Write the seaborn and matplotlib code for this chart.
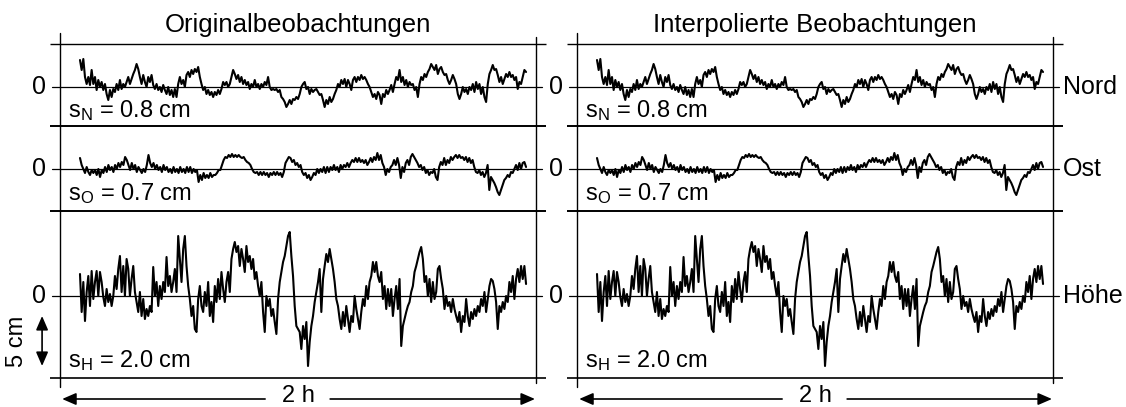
import numpy as np
import matplotlib
matplotlib.use("Agg")
import matplotlib.pyplot as plt
import seaborn as sns

sns.set_theme(style="white")
plt.rcParams['font.family'] = ['Liberation Sans', 'DejaVu Sans']
plt.rcParams['mathtext.default'] = 'regular'
plt.rcParams['text.color'] = 'black'

# residuals in cm (2 h record)
nord = [
    2.7, 1.7, 2.8, 1.0, 0.3, 1.0, 0.2, 1.7, 0.3, 1.0,
    -0.3, 0.7, 0.0, 0.5, -0.3, 0.3, -0.7, -1.3, -0.3, -1.0,
    -0.2, -0.5, 0.3, -0.3, 0.7, -0.2, 0.3, 0.0, 0.5, 1.0,
    0.3, 0.8, 1.3, 1.7, 2.3, 1.8, 1.0, 0.3, 1.2, 0.5,
    0.0, 1.0, 0.5, 1.2, 0.2, -0.2, 0.3, -0.3, 0.0, -0.5,
    0.2, -0.3, -0.7, 0.0, -0.8, -0.3, -1.0, -0.2, -1.0, 0.3,
    1.0, 0.3, 0.7, 0.0, 1.2, 1.5, 1.0, 1.7, 1.3, 1.8,
    1.5, 2.0, 1.0, 0.3, -0.3, 0.0, -0.7, -0.3, -0.8, -0.5,
    -1.0, -0.5, -0.8, -0.3, -0.7, -0.2, 0.5, 0.2, 0.5, 0.0,
    0.3, 1.0, 1.7, 1.3, 0.8, 1.2, 0.5, 1.0, 0.3, 0.7,
    0.2, 0.5, -0.2, 0.3, 0.0, 0.7, 0.0, 0.3, -0.2, 0.3,
    0.0, 0.5, 0.2, 1.0, 0.0, -0.3, -0.2, -0.3, -0.2, -0.5,
    -0.3, -1.0, -1.2, -1.5, -2.0, -1.7, -1.3, -1.7, -1.2, -1.3,
    -1.0, -1.2, -0.7,
    0.0, 0.3, 0.5, -0.2, 0.0, -0.7, -0.2, -0.5, -0.3, -0.2,
    -0.5, -0.8, -0.7, -1.3, -2.0, -1.3, -1.7, -1.0, -1.5, -1.2,
    -0.7, -0.3, 0.3, 0.0, 0.7, 0.3, 0.8, 0.0, 0.7, 0.3,
    -0.3, 0.7, 1.0, 0.5, 1.0, 0.7, 1.2, 0.8, 1.0, 0.7,
    0.3, 0.0, -0.5, -1.0, -0.7, -1.2, -0.5, -0.8, -1.7, -0.7,
    -1.0, -0.3, -0.7, -0.3, 0.2, -0.5, 0.3, 1.0, 0.7, 1.7,
    0.5, 1.0, 0.2, 0.7, 0.0, 0.5, 0.2, 0.3, -0.3, 0.0,
    -1.0, 0.3, 1.0, 0.7, 1.3, 1.0, 1.5, 1.8, 2.3, 2.0,
    1.7, 2.2, 1.3, 1.8, 2.0, 1.5, 1.2, 1.3, 0.7, 0.3,
    0.7, 1.2, 0.8, 0.3, -0.7, -1.2, -0.7, 0.0, -0.5, -0.2,
    -0.7, 0.0, -0.3, 0.3, -0.5, 0.5, -0.2, 0.3, -0.7, 0.0,
    -1.0, -1.5, 0.3, 1.3, 1.7, 2.2, 1.7, 1.8, 1.2, 0.5,
    1.0, 0.3, 0.8, 1.3, 1.0, 1.5, 1.0, 1.2, 0.7, 1.0,
    -0.2, 0.5, 0.3, 1.0, 1.7, 1.5,
]

ost = [
    1.1, 0.4, 0.0, -0.4, 0.2, -0.3, -0.6, -0.1, -0.4, -0.1,
    -0.6, 0.0, -0.8, -0.1, -0.4, 0.2, -0.3, 0.4, -0.1, 0.2,
    -0.3, 0.4, 0.0, 0.6, 0.2, 0.7, 0.4, 1.2, 0.9, 0.4,
    -0.1, 0.6, 0.0, 0.4, -0.3, 0.2, -0.1, -0.4, 0.0, -0.3,
    0.4, 1.4, 0.6, 0.2, 0.6, 0.0, 0.4, -0.1, 0.2, -0.3,
    0.4, -0.1, 0.2, -0.3, 0.0, -0.4, 0.2, -0.3, 0.0, -0.4,
    0.2, -0.3, 0.0, -0.4, 0.2, -0.3, 0.2, -0.4, 0.0, -0.3,
    -0.1, -1.3, -0.6, -1.1, -0.4, -0.9, -0.6, -0.9, -0.4, -0.8,
    -0.6, -0.6, -0.4, -0.1, -0.1, 0.4, 0.9, 1.2, 1.1, 1.4,
    1.2, 1.5, 1.2, 1.4, 1.2, 1.4, 1.2, 1.1, 1.2, 0.9,
    0.7, 0.6, 0.4, 0.0, -0.3, -0.4, -0.3, -0.6, -0.3, -0.6,
    -0.3, -0.6, -0.4, -0.8, -0.4, -0.6, -0.3, -0.6, -0.3, -0.6,
    -0.4, -0.8, -0.3, 0.6, 0.9, 1.2, 1.1, 0.7, 0.9, 0.4,
    0.6, 0.2, 0.4,
    -0.3, -0.6, -0.4, -0.9, -0.6, -1.1, -0.8, -0.4, -0.6, 0.0,
    -0.4, 0.0, -0.3, 0.2, -0.4, 0.2, -0.3, 0.2, -0.1, 0.4,
    -0.1, 0.2, -0.3, 0.4, 0.0, 0.4, 0.2, 0.6, 0.2, 0.6,
    0.9, 0.7, 1.1, 0.7, 1.1, 0.7, 0.9, 0.6, 0.9, 0.4,
    0.7, 1.1, 0.7, 1.2, 0.9, 1.6, 0.9, 1.4, 0.6, 0.2,
    -0.6, 0.0, -0.3, 0.2, 0.4, 0.9, 0.4, 1.1, 0.4, -0.9,
    0.2, -0.3, 0.6, 0.9, 0.4, 1.2, 1.5, 1.2, 0.9, 0.6,
    0.2, 0.4, -0.1, 0.2, -0.4, -0.1, -0.6, -0.3, -0.4, 0.0,
    -0.8, -1.1, 0.2, 0.7, 0.4, 1.1, 0.4, 0.9, 0.6, 1.2,
    0.9, 1.2, 1.4, 1.1, 1.4, 1.1, 1.2, 0.9, 1.2, 0.7,
    1.1, 0.6, 0.9, 0.2, -0.3, -0.4, -0.1, -0.6, -0.3, -0.8,
    -0.4, 0.4, -2.1, -0.8, -1.1, -1.4, -1.8, -2.3, -2.6, -2.1,
    -1.6, -1.1, -0.9, -0.6, -0.8, -0.3, -0.4, 0.0, 0.4, -0.1,
    0.6, 0.0, 0.6, 0.7, 0.2,
]

hoehe = [
    2.2, -1.6, 1.4, -2.5, 0.4, 2.0, -1.0, 2.5, -0.3, 1.4,
    2.5, 0.0, 2.4, 1.4, -0.1, -1.0, 0.7, -0.6, 0.2, -1.0,
    0.0, 2.0, 0.7, 2.7, 4.0, 0.4, 3.0, 0.0, 3.7, 2.7,
    0.0, 1.7, 3.0, 0.4, -0.6, -1.6, 0.4, -2.0, -0.3, -2.3,
    -1.3, -2.0, -1.0, -1.6, 2.9, 0.0, 1.4, -1.0, 1.0, -0.3,
    1.4, 0.4, 3.9, 1.0, 2.0, 0.4, 1.4, 2.7, 0.4, 6.0,
    3.7, 1.4, 4.7, 6.0, 3.0, 1.0, -0.3, -2.0, -1.0, -3.3,
    -3.6, -0.3, 1.0, -1.0, -1.6, 0.4, -1.0, 1.4, -2.0, -0.6,
    -2.6, 1.0, -0.6, 1.7, -0.3, 2.4, 0.7, -0.6, 1.4, 2.4,
    0.4, 3.7, 4.7, 5.4, 4.4, 5.0, 3.0, 4.7, 3.7, 2.4,
    5.0, 3.4, 4.0, 2.7, 3.7, 1.7, 2.4, 1.0, 0.0, 1.4,
    -1.6, -3.6, 0.0, -1.0, -0.3, -2.0, -1.3, -2.6, -3.8, -0.3,
    1.4, 2.4, 3.4, 4.0, 5.0, 6.0, 6.4, 4.0, 2.0, -1.0,
    -3.0, -3.3, -3.6,
    -5.3, -3.0, -4.3, -2.6, -7.0, -4.6, -3.0, -2.0, -0.6, 0.4,
    1.4, 2.7, -1.6, 1.7, 3.0, 4.2, 3.4, 4.7, 3.7, 2.7,
    1.4, -0.3, -1.0, -2.3, -3.3, -1.6, -3.0, -1.0, -2.3, -3.6,
    -2.0, -2.6, 0.0, -1.3, -2.3, -3.3, -1.6, -0.3, -1.0, 1.0,
    -0.3, 1.4, 2.0, 3.4, 2.4, 3.4, 2.0, 1.4, 2.4, -0.3,
    1.0, -1.3, 0.7, -1.0, 0.7, -2.0, -0.3, 1.0, -1.3, 1.7,
    -5.0, -3.0, -2.3, -1.6, -1.0, -0.6, 0.4, 1.0, 2.4, 3.0,
    3.7, 4.4, 4.9, 3.7, 1.4, 2.0, 0.0, 1.7, -0.6, 1.4,
    -0.3, 0.4, 2.7, 3.0, 1.7, 0.7, -1.3, 0.0, -1.0, -0.6,
    -1.6, -0.3, -1.3, -2.0, -2.6, -1.6, -3.6, -2.0, -2.6, -0.3,
    -2.0, -3.0, -1.6, -2.3, -1.3, -2.0, -1.0, -1.6, -0.3, -1.0,
    0.4, -1.6, -0.3, 1.0, 1.7, 1.5, 0.7, -0.6, -3.3, -1.0,
    -1.6, -0.6, -1.3, 0.0, -0.6, 1.4, 0.4, 2.0, -0.3, 1.7,
    2.7, 1.4, 3.0, 1.7, 3.0, 1.2,
]

series = [nord, ost, hoehe]
components = ['Nord', 'Ost', 'Höhe']
sigma_labels = ['s$_N$ = 0.8 cm', 's$_O$ = 0.7 cm', 's$_H$ = 2.0 cm']
panel_titles = ['Originalbeobachtungen', 'Interpolierte Beobachtungen']
duration_min = 120

# stacking of the three strips (cm)
offsets = [20.9, 12.7, 0.0]
bounds = [25.2, 17.0, 8.5, -8.2]
bound_lw = [1.0, 1.4, 1.4, 1.2]
sigma_y = [17.9, 9.6, -7.1]

fig = plt.figure(figsize=(11.26, 4.07), dpi=100)
axes = [fig.add_axes([0, 0, 0.5, 1]), fig.add_axes([0.5, 0, 0.5, 1])]
xlims = [(-21.52, 129.94), (-9.15, 142.32)]
fs = 17

for k, ax in enumerate(axes):
    ax.set_xlim(*xlims[k])
    ax.set_ylim(-11.1, 29.6)
    ax.axis('off')

    for y, lw in zip(bounds, bound_lw):
        ax.plot([-8.1, 125.5], [y, y], color='black', lw=lw, solid_capstyle='butt')
    ax.plot([-5.4, -5.4], [26.3, -9.1], color='black', lw=1.0)
    ax.plot([122.8, 122.8], [25.9, -8.7], color='black', lw=1.0)

    for vals, off, comp, lab, sy in zip(series, offsets, components, sigma_labels, sigma_y):
        t = np.linspace(0, duration_min, len(vals))
        ax.plot([-7.5, 124.3], [off, off], color='black', lw=0.9)
        sns.lineplot(x=t, y=np.array(vals) + off, ax=ax, color='black', lw=1.5,
                     estimator=None, sort=False, legend=False)
        ax.text(-11.0, off, '0', fontsize=18, ha='center', va='center')
        ax.text(-3.2, sy, lab, fontsize=fs, ha='left', va='baseline')
        if k == 1:
            ax.text(125.4, off, comp, fontsize=18, ha='left', va='center')

    ax.text(58.7, 27.1, panel_titles[k], fontsize=18.5, ha='center', va='center')

    # time span arrows
    ax.text(58.7, -10.6, '2 h', fontsize=fs, ha='center', va='baseline')
    arr = dict(arrowstyle='-|>,head_length=0.6,head_width=0.26', color='black',
               lw=1.2, shrinkA=0, shrinkB=0, mutation_scale=14)
    ax.annotate('', xy=(-4.8, -10.3), xytext=(49.8, -10.3), arrowprops=arr)
    ax.annotate('', xy=(122.4, -10.3), xytext=(67.3, -10.3), arrowprops=arr)

# 5 cm scale bar
ax = axes[0]
ax.annotate('', xy=(-10.2, -2.0), xytext=(-10.2, -7.0),
            arrowprops=dict(arrowstyle='<|-|>,head_length=0.6,head_width=0.26',
                            color='black', lw=1.2, shrinkA=0, shrinkB=0, mutation_scale=14))
ax.text(-16.9, -4.5, '5 cm', fontsize=fs, rotation=90, ha='center', va='center')

fig.savefig('out.png', dpi=100)
